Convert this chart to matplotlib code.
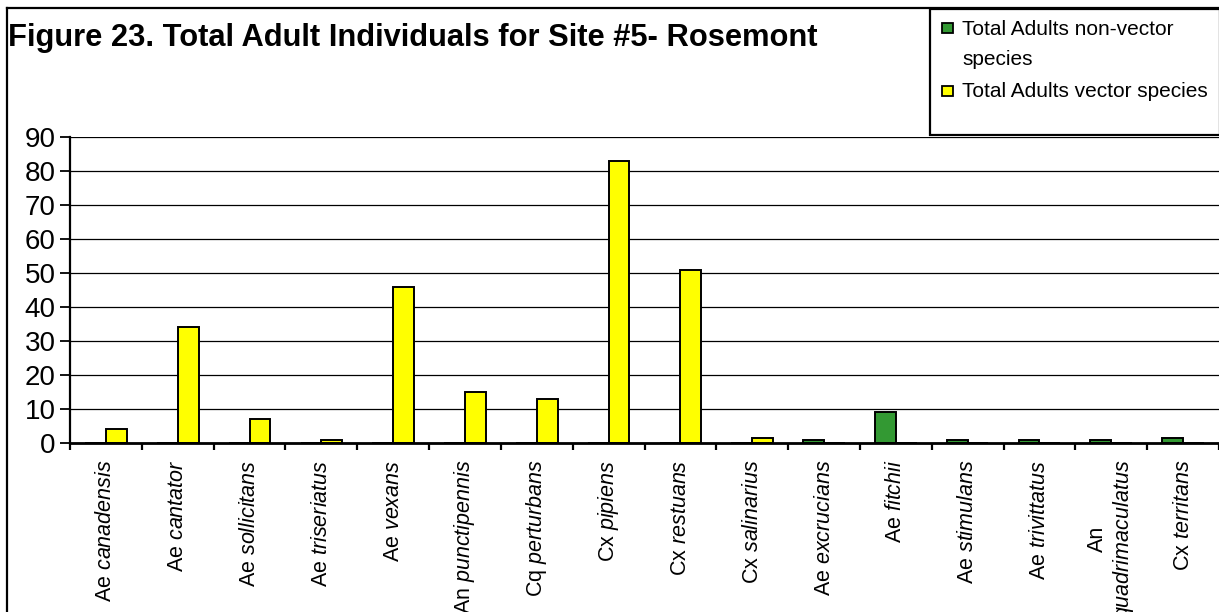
import numpy as np
import matplotlib
matplotlib.use("Agg")
import matplotlib.pyplot as plt
from matplotlib.patches import Rectangle

plt.rcParams['font.family'] = ['Liberation Sans', 'DejaVu Sans']
plt.rcParams['mathtext.fontset'] = 'custom'
plt.rcParams['mathtext.rm'] = 'Liberation Sans'
plt.rcParams['mathtext.it'] = 'Liberation Sans:italic'

# genus / species for each category
genus = ["Ae", "Ae", "Ae", "Ae", "Ae", "An", "Cq", "Cx", "Cx", "Cx",
         "Ae", "Ae", "Ae", "Ae", "An", "Cx"]
species = ["canadensis", "cantator", "sollicitans", "triseriatus", "vexans",
           "punctipennis", "perturbans", "pipiens", "restuans", "salinarius",
           "excrucians", "fitchii", "stimulans", "trivittatus",
           "quadrimaculatus", "territans"]

nonvector = [0, 0, 0, 0, 0, 0, 0, 0, 0, 0, 1, 9, 1, 1, 1, 1.5]
vector = [4, 34, 7, 1, 46, 15, 13, 83, 51, 1.5, 0, 0, 0, 0, 0, 0]

labels_legend = ["Total Adults non-vector\nspecies", "Total Adults vector species"]
col_green = "#339933"
col_yellow = "#FFFF00"

W, H = 1219, 612
fig = plt.figure(figsize=(W / 100, H / 100), dpi=100)

# plot area: left at 70px, 0 at y=443, 90 at y=137, runs off the right edge
ax = fig.add_axes([70 / W, 1 - 443 / H, (W - 70) / W, (443 - 137) / H])

x = np.arange(len(species))
w = 0.29
ax.bar(x - w / 2, nonvector, w, color=col_green, edgecolor="black", linewidth=1.4, zorder=2)
ax.bar(x + w / 2, vector, w, color=col_yellow, edgecolor="black", linewidth=1.4, zorder=2)

ax.set_ylim(0, 90)
ax.set_xlim(-0.5, -0.5 + (W - 70) / 72.0)
ax.set_yticks(np.arange(0, 91, 10))
ax.yaxis.grid(True, color="black", linewidth=0.9)
ax.set_axisbelow(True)
for s in ["top", "right"]:
    ax.spines[s].set_visible(False)
ax.spines["left"].set_linewidth(1.6)
ax.spines["bottom"].set_linewidth(2.0)
ax.tick_params(axis="y", direction="out", length=7.5, width=1.3, labelsize=20, pad=3)

# category labels: genus upright, species in italics
ticklabels = []
for g, sp in zip(genus, species):
    if sp == "quadrimaculatus":
        ticklabels.append(g + "\n$\\mathit{" + sp + "}$")
    else:
        ticklabels.append(g + " $\\mathit{" + sp + "}$")
ax.set_xticks(x)
ax.set_xticklabels(ticklabels, rotation=90, fontsize=15.5, va="top", ha="center")
ax.tick_params(axis="x", which="major", length=0, pad=12)
ax.set_xticks(np.arange(-0.5, len(species), 1), minor=True)
ax.tick_params(axis="x", which="minor", direction="out", length=5, width=1.6)

# title
fig.text(8 / W, 1 - 38 / H, "Figure 23. Total Adult Individuals for Site #5- Rosemont",
         fontsize=22.2, fontweight="bold", ha="left", va="center")

# outer chart border (left and top)
fig.add_artist(plt.Line2D([7 / W, 7 / W], [0, 1 - 8 / H], color="black", linewidth=1.6,
                          transform=fig.transFigure))
fig.add_artist(plt.Line2D([7 / W, 1], [1 - 8 / H, 1 - 8 / H], color="black", linewidth=1.6,
                          transform=fig.transFigure))

# legend box
fig.add_artist(Rectangle((930 / W, 1 - 135 / H), (W - 929) / W, (135 - 9) / H,
                         transform=fig.transFigure, facecolor="white",
                         edgecolor="black", linewidth=1.6))
legend_sq = [23, 86]
legend_txt = [20, 82]
for lab, col, ys, yt in zip(labels_legend, [col_green, col_yellow], legend_sq, legend_txt):
    fig.add_artist(Rectangle((942 / W, 1 - (ys + 10) / H), 11 / W, 10 / H,
                             transform=fig.transFigure, facecolor=col,
                             edgecolor="black", linewidth=1.3))
    fig.text(962 / W, 1 - yt / H, lab, fontsize=15, ha="left", va="top",
             linespacing=1.75)

fig.savefig("out.png", dpi=100)
